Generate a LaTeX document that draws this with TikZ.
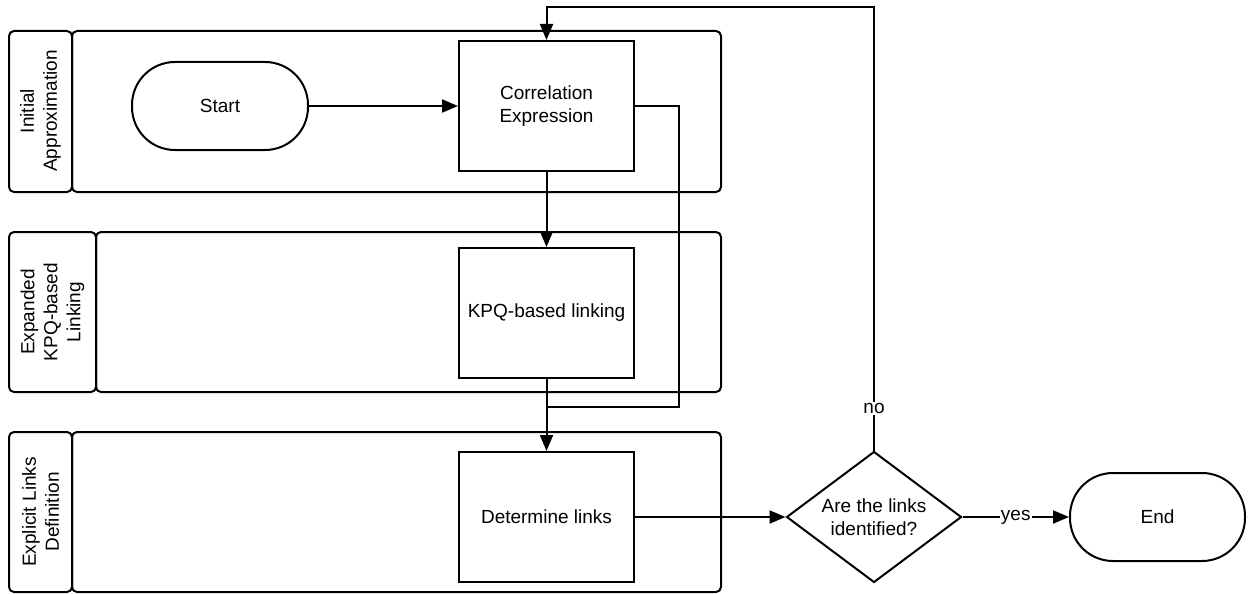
\documentclass[tikz,border=0pt]{standalone}
\usepackage{fontspec}
\setmainfont{Liberation Sans}
\usetikzlibrary{arrows.meta,shapes.geometric}
\begin{document}
\begin{tikzpicture}[x=1pt,y=-1pt,
  line width=2pt,
  font=\fontsize{19}{23}\selectfont,
  lane/.style={draw, rounded corners=5pt},
  lanetext/.style={rotate=90, align=center},
  proc/.style={draw, rectangle, minimum width=175pt, minimum height=130pt, align=center, inner sep=0pt},
  term/.style={draw, rectangle, rounded corners=43pt, minimum width=176pt, minimum height=88pt, inner sep=0pt},
  decision/.style={draw, diamond, aspect=1.336, minimum width=175pt, minimum height=131pt, inner sep=0pt, align=center},
  arrow/.style={-{Triangle[length=16pt,width=13pt]}},
  lbl/.style={fill=white, inner sep=1pt}
]
\useasboundingbox (0,0) rectangle (1254,594);

% swimlanes: header cell and body of each lane
\draw[lane] (9,31) rectangle (72,192);
\draw[lane] (72,31) rectangle (721,192);
\draw[lane] (9,232) rectangle (96,392);
\draw[lane] (96,232) rectangle (721,392);
\draw[lane] (9,432) rectangle (72,592);
\draw[lane] (72,432) rectangle (721,592);

\node[lanetext] (h1) at (40.5,111) {Initial\\Approximation};
\node[lanetext] (h2) at (52.5,312) {Expanded\\KPQ-based\\Linking};
\node[lanetext] (h3) at (40.5,512) {Explicit Links\\Definition};

% flow nodes
\node[term] (start) at (220,106) {Start};
\node[proc] (ce) at (546.5,106) {Correlation\\Expression};
\node[proc] (kpq) at (546.5,313) {KPQ-based linking};
\node[proc] (dl) at (546.5,517) {Determine links};
\node[decision] (dec) at (874,517) {Are the links\\identified?};
\node[term, minimum width=175pt] (end) at (1157.5,517) {End};

\coordinate (loopR) at (874,7.5);
\coordinate (ceR) at (679,106);
\coordinate (joinR) at (679,407);
\coordinate (join) at (546.5,407);

% connectors
\draw[arrow] (start) -- (ce);
\draw[arrow] (ce) -- (kpq);
\draw[arrow] (kpq) -- (dl);
\draw (ce.east) -- (ceR) -- (joinR) -- (join);
\draw[arrow] (dl) -- (dec);
\draw[arrow] (dec) -- node[lbl] {yes} (end);
\draw[arrow] (dec.north) -- node[lbl, pos=0.095] {no} (loopR) -| (ce.north);

\end{tikzpicture}
\end{document}
